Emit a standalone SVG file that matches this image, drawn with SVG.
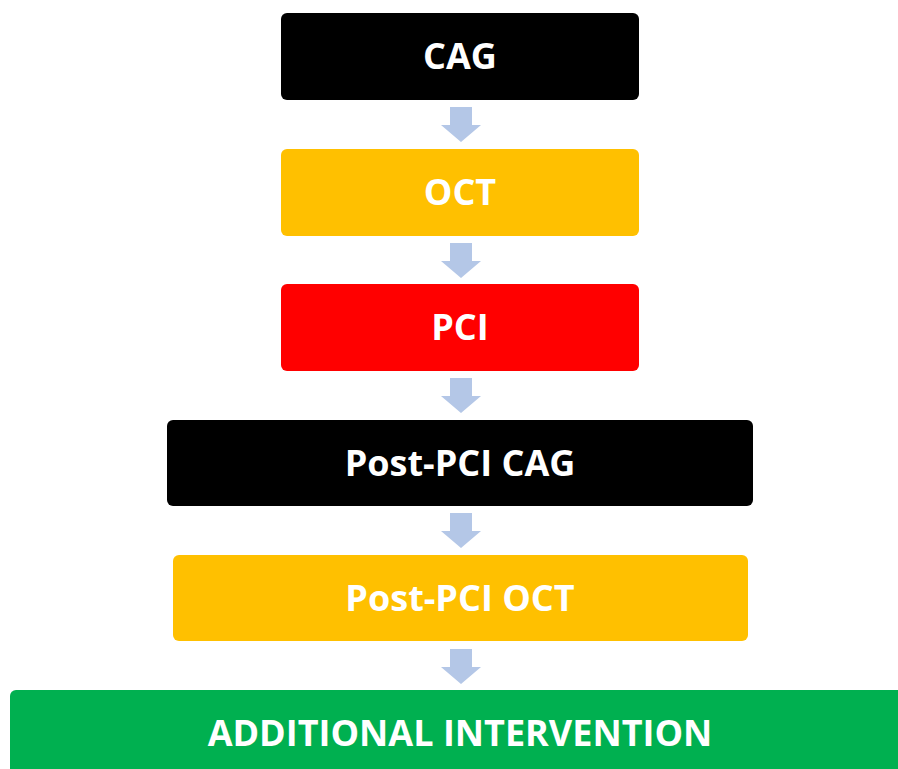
<svg xmlns="http://www.w3.org/2000/svg" xmlns:xlink="http://www.w3.org/1999/xlink" width="898" height="769" viewBox="0 0 898 769">
  <style>
    .box { stroke: none; }
    .label { font-family: "Open Sans", "Liberation Sans", sans-serif; font-weight: bold; font-size: 36px; fill: #FFFFFF; text-anchor: middle; }
    .arrow { fill: #B4C7E7; }
  </style>
  <defs>
    <!-- block arrow pointing down, origin at top centre of shaft -->
    <path id="down" class="arrow" d="M -11 0 H 11 V 18 H 20 L 0 35 L -20 18 H -11 Z"/>
  </defs>

  <rect width="898" height="769" fill="#FFFFFF"/>

  <g id="connectors">
    <use xlink:href="#down" href="#down" transform="translate(461,107)"/>
    <use xlink:href="#down" href="#down" transform="translate(461,243)"/>
    <use xlink:href="#down" href="#down" transform="translate(461,378)"/>
    <use xlink:href="#down" href="#down" transform="translate(461,513)"/>
    <use xlink:href="#down" href="#down" transform="translate(461,649)"/>
  </g>

  <g id="cag">
    <rect class="box" x="281" y="13" width="358" height="87" rx="6" fill="#000000"/>
    <text class="label" x="460" y="69">CAG</text>
  </g>

  <g id="oct">
    <rect class="box" x="281" y="149" width="358" height="87" rx="6" fill="#FFC000"/>
    <text class="label" x="460" y="205">OCT</text>
  </g>

  <g id="pci">
    <rect class="box" x="281" y="284" width="358" height="87" rx="6" fill="#FF0000"/>
    <text class="label" x="460" y="340">PCI</text>
  </g>

  <g id="post-pci-cag">
    <rect class="box" x="167" y="420" width="586" height="86" rx="6" fill="#000000"/>
    <text class="label" x="460" y="476">Post-PCI CAG</text>
  </g>

  <g id="post-pci-oct">
    <rect class="box" x="173" y="555" width="575" height="86" rx="6" fill="#FFC000"/>
    <text class="label" x="460" y="611">Post-PCI OCT</text>
  </g>

  <g id="additional-intervention">
    <rect class="box" x="10" y="690" width="910" height="110" rx="6" fill="#00B050"/>
    <text class="label" x="460" y="746">ADDITIONAL INTERVENTION</text>
  </g>
</svg>
